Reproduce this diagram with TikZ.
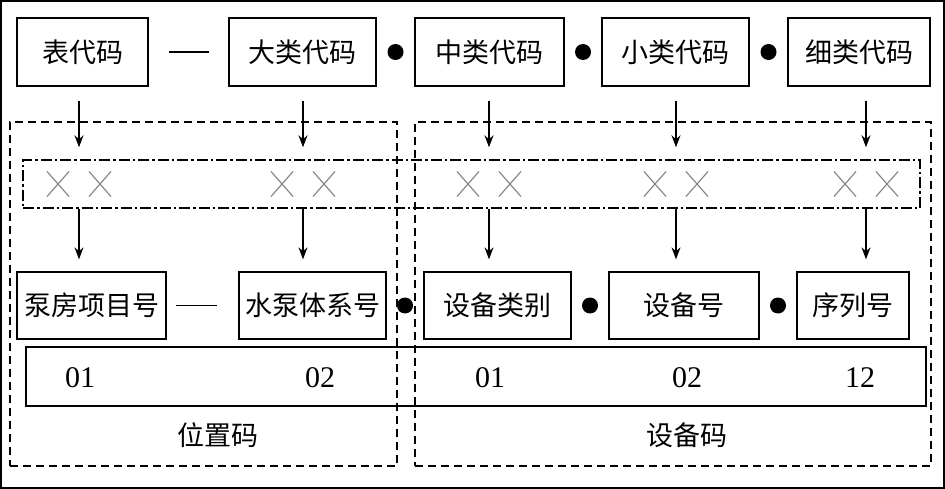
\documentclass[tikz,border=0pt]{standalone}
\usepackage{fontspec}
\setmainfont{Liberation Serif}
\newfontfamily\cjk{Noto Sans CJK SC}
\usetikzlibrary{shapes.misc,calc,arrows.meta}

\begin{document}
\begin{tikzpicture}[x=1pt, y=-1pt,
        every node/.style={font=\cjk\fontsize{27}{30}\selectfont},
        codebox/.style={rectangle, draw, line width=1.3pt,
            inner sep=0pt, minimum height=68, align=center},
        numbox/.style={rectangle, draw, line width=1.3pt,
            inner sep=0pt, minimum width=900, minimum height=59},
        groupbox/.style={rectangle, draw, line width=1.4pt,
            dash pattern=on 8pt off 5pt, inner sep=0pt, minimum height=344},
        bitbox/.style={rectangle, draw, line width=1.4pt,
            dash pattern=on 11pt off 3pt on 2.5pt off 3pt,
            inner sep=0pt, minimum width=897, minimum height=48},
        bit/.style={cross out, draw=black!50, line width=1.1pt,
            minimum width=21, minimum height=24, inner sep=0pt},
        joint/.style={circle, fill=black, inner sep=0pt, minimum size=16},
        link/.style={line width=1.4pt},
        arrow/.style={-{Stealth[length=12pt, width=9pt]}, line width=1.3pt},
        num/.style={font=\rmfamily\fontsize{30}{32}\selectfont}
      ]
      \useasboundingbox (0,0) rectangle (945,489);
      \draw[line width=2pt] (1,1) rectangle (944,488);
      % groups
      \node[groupbox, minimum width=387] (loc) at (203.5, 294) {};
      \node[groupbox, minimum width=516] (equ) at (673, 294) {};
      \node[bitbox] (bits) at (471.5, 184) {};
      % top row
      \node[codebox, minimum width=131] (tbl) at (82.5, 52) {表代码};
      \node[codebox, minimum width=147] (big) at (302.5, 52) {大类代码};
      \node[codebox, minimum width=149] (mid) at (489.5, 52) {中类代码};
      \node[codebox, minimum width=147] (small) at (675.5, 52) {小类代码};
      \node[codebox, minimum width=142] (fine) at (859, 52) {细类代码};
      % bottom row
      \node[codebox, minimum width=149, minimum height=67] (room) at (91.5, 305.5) {泵房项目号};
      \node[codebox, minimum width=147, minimum height=67] (sys) at (312.5, 305.5) {水泵体系号};
      \node[codebox, minimum width=147, minimum height=67] (cat) at (497.5, 305.5) {设备类别};
      \node[codebox, minimum width=150, minimum height=67] (dev) at (684, 305.5) {设备号};
      \node[codebox, minimum width=112, minimum height=67] (seq) at (853, 305.5) {序列号};
      \node[numbox] (nums) at (476, 376.5) {};
      % bit pairs
      \foreach \name/\x in {p1/79, p2/303, p3/489, p4/676, p5/866} {
        \coordinate (\name) at (\x, 184);
        \node[bit] (\name a) at (\x-21, 184) {};
        \node[bit] (\name b) at (\x+21, 184) {};
        \draw[arrow, shorten <=14pt, shorten >=12pt] (\name |- tbl.south) -- (\name |- bits.north);
        \draw[arrow, shorten >=12pt] (\name |- bits.south) -- (\name |- room.north);
      }
      % joints
      \draw[link, shorten <=20pt, shorten >=19pt] (tbl.east) -- (big.west);
      \draw[link, shorten <=9pt, shorten >=21pt] (room.east) -- (sys.west);
      \node[joint] (j1) at ($(big.east)!0.5!(mid.west)$) {};
      \node[joint] (j2) at ($(mid.east)!0.5!(small.west)$) {};
      \node[joint] (j3) at ($(small.east)!0.5!(fine.west)$) {};
      \node[joint] (j4) at ($(sys.east)!0.5!(cat.west)$) {};
      \node[joint] (j5) at ($(cat.east)!0.5!(dev.west)$) {};
      \node[joint] (j6) at ($(dev.east)!0.5!(seq.west)$) {};
      % values
      \node[num] (v1) at (80, 378) {01};
      \node[num] (v2) at (320, 378) {02};
      \node[num] (v3) at (490, 378) {01};
      \node[num] (v4) at (687, 378) {02};
      \node[num] (v5) at (860, 378) {12};
      \node (loclabel) at (218, 435) {位置码};
      \node (equlabel) at (687, 435) {设备码};
    \end{tikzpicture}
\end{document}
